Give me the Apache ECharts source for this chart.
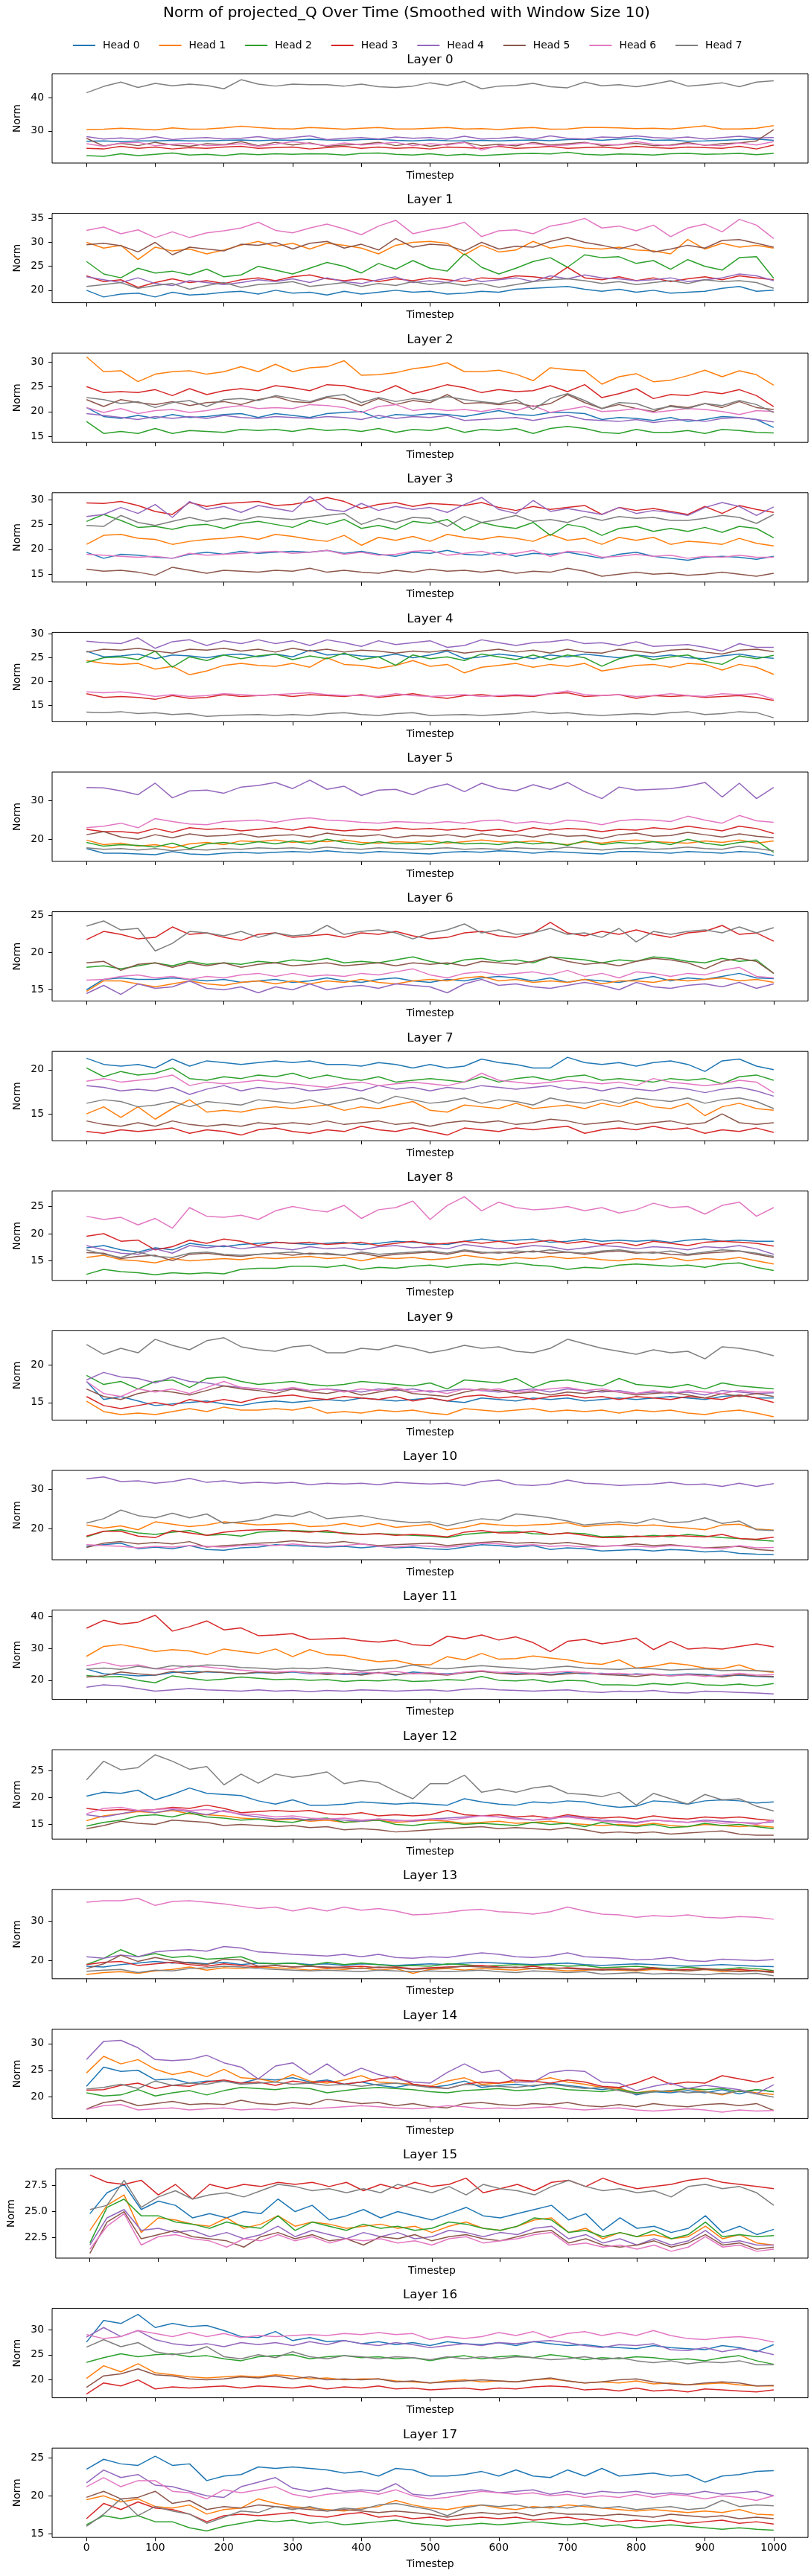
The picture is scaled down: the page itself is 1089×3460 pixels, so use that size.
<!DOCTYPE html>
<html>
<head>
<meta charset="utf-8">
<title>Norm of projected_Q Over Time</title>
<script src="https://cdn.jsdelivr.net/npm/echarts@6/dist/echarts.min.js"></script>
<style>
  html, body { margin: 0; padding: 0; background: #fff; }
  #chart { width: 1089px; height: 3460px; }
</style>
</head>
<body>
<div id="chart"></div>
<script>
// timesteps sampled every 25 steps
var timesteps = [0,25,50,75,100,125,150,175,200,225,250,275,300,325,350,375,400,425,450,475,500,525,550,575,600,625,650,675,700,725,750,775,800,825,850,875,900,925,950,975,1000];
var headNames = ['Head 0','Head 1','Head 2','Head 3','Head 4','Head 5','Head 6','Head 7'];
var headColors = ['#1f77b4','#ff7f0e','#2ca02c','#d62728','#9467bd','#8c564b','#e377c2','#7f7f7f'];
var xTicks = [0,100,200,300,400,500,600,700,800,900,1000];

// each layer: rows are Head 0 .. Head 7
var layer0 = [
  [26.9,27.0,26.8,27.0,27.0,27.2,27.0,27.0,27.2,27.3,27.1,27.3,27.2,27.5,27.3,27.2,27.4,27.5,27.2,27.0,27.3,27.1,27.0,27.2,27.0,27.2,27.3,27.1,27.4,27.5,27.2,27.6,27.8,27.2,27.3,26.9,27.0,27.2,27.4,27.6,27.2],
  [30.4,30.5,30.8,30.6,30.3,30.9,30.5,30.6,30.9,31.4,31.0,30.7,30.6,31.0,30.8,30.5,30.8,31.0,30.6,30.6,30.8,31.0,30.6,30.7,30.4,30.8,31.0,30.5,30.6,31.0,31.0,30.9,30.7,30.8,30.6,31.0,31.5,30.6,30.6,30.8,31.6],
  [22.6,22.4,23.2,22.6,23.0,23.4,22.8,23.0,22.6,23.2,22.9,23.2,23.0,23.2,23.1,22.8,23.3,23.4,23.0,22.8,23.2,22.7,23.0,22.6,22.9,23.2,23.3,23.1,23.6,23.0,22.8,23.1,23.0,22.8,23.2,23.3,23.0,23.1,23.3,22.9,23.3],
  [24.8,24.6,25.4,24.8,25.2,24.6,25.0,24.8,25.2,25.4,24.8,25.0,25.2,24.6,25.0,25.4,24.8,25.2,24.8,25.0,24.6,25.2,25.0,24.8,25.4,24.8,25.0,25.4,24.8,25.0,25.2,24.8,25.4,25.0,24.8,25.2,25.0,24.8,25.4,24.6,25.8],
  [28.3,27.6,27.9,27.5,28.3,27.4,27.8,28.0,27.6,27.8,28.3,27.6,28.0,28.5,27.4,27.8,28.0,27.6,28.2,27.8,28.0,27.5,28.4,27.6,27.8,28.2,27.6,28.5,27.8,27.6,28.2,28.0,28.5,28.0,27.8,28.2,27.6,28.0,28.4,27.9,28.0],
  [27.8,25.5,26.3,25.6,26.6,25.8,25.4,26.2,25.9,26.8,25.6,26.6,25.8,26.4,25.4,25.8,26.0,26.6,25.6,26.3,25.4,26.1,26.6,25.6,26.0,25.5,26.6,25.8,26.2,26.6,25.6,25.9,26.3,25.6,25.8,26.5,25.7,26.2,26.4,27.0,30.4],
  [26.2,25.4,26.4,26.6,25.6,26.0,26.3,25.6,25.8,26.2,25.4,26.0,26.8,26.2,25.6,26.4,25.8,26.2,26.6,25.6,26.2,25.8,26.6,24.3,25.6,26.0,26.2,25.6,25.8,26.4,26.0,25.8,26.8,26.0,25.6,26.2,25.8,25.6,26.4,25.8,26.8],
  [41.4,43.3,44.6,43.0,44.2,43.5,44.0,43.6,42.6,45.3,44.0,43.4,44.0,43.8,43.8,43.4,44.0,43.2,43.0,43.4,44.4,43.6,44.8,42.6,43.4,43.6,44.2,43.2,42.9,44.6,43.5,43.8,43.2,44.0,45.0,43.4,43.8,44.4,43.2,44.6,45.0]
];
var layer1 = [
  [20.0,18.6,19.2,19.4,18.6,19.6,19.0,19.2,19.6,19.8,19.2,20.0,19.4,19.6,19.0,19.8,19.2,19.6,20.0,19.6,19.8,19.2,19.4,19.8,19.6,20.2,20.4,20.6,20.8,20.2,19.8,20.2,19.6,20.0,19.4,19.6,19.8,20.4,20.8,19.8,20.0],
  [30.0,28.8,29.4,26.4,29.0,28.2,28.6,27.6,28.4,29.4,30.2,29.2,29.8,28.6,29.8,29.4,28.8,27.6,29.4,30.0,30.2,29.8,27.4,29.4,28.0,28.4,30.2,28.8,29.4,28.8,28.6,29.0,28.4,28.2,27.6,30.6,28.6,29.8,29.0,29.4,28.8],
  [26.0,23.4,22.6,24.6,23.6,24.0,23.2,24.4,22.8,23.2,25.0,24.2,23.4,24.6,25.8,25.0,23.6,25.6,24.4,26.2,24.6,24.0,27.6,24.8,23.4,24.6,26.0,26.8,24.8,27.4,26.8,27.0,25.6,26.2,24.4,26.4,25.0,24.2,26.8,27.0,22.5],
  [23.0,21.8,22.2,20.6,21.6,22.4,21.6,22.0,21.4,22.2,22.6,22.0,22.8,23.2,22.4,22.0,22.4,21.8,22.4,22.0,22.6,22.2,21.8,22.6,22.4,23.0,22.8,22.4,24.8,22.6,22.2,22.8,22.0,22.6,21.8,22.4,22.8,22.2,23.0,22.6,22.2],
  [22.8,22.2,21.6,22.6,21.4,21.0,22.0,21.6,21.2,21.6,22.2,21.8,22.4,21.6,22.6,21.8,21.4,22.2,22.8,21.6,22.0,21.6,22.6,21.8,22.2,22.6,21.8,23.0,22.4,23.2,22.6,22.4,22.0,22.2,22.6,21.8,22.2,22.6,23.4,23.0,22.0],
  [29.5,29.8,29.3,28.0,30.0,27.4,29.0,28.6,28.2,29.6,29.4,30.0,28.6,29.8,30.2,28.8,29.6,28.4,30.8,29.0,29.6,29.4,28.2,30.0,28.6,29.2,29.0,30.2,31.0,30.0,29.4,28.6,29.6,28.0,28.6,29.4,28.8,30.4,30.6,29.8,29.0],
  [32.5,33.2,31.8,32.6,31.0,32.2,31.0,32.0,32.4,33.0,34.2,32.5,32.0,33.0,33.8,32.8,31.6,33.4,34.6,31.8,32.6,33.2,34.2,31.2,32.4,32.6,31.8,33.4,34.0,35.0,33.0,33.4,32.4,33.6,31.2,33.0,33.8,32.2,34.8,33.6,30.8],
  [20.8,21.2,21.6,20.4,21.0,21.4,20.2,21.0,21.6,20.6,21.2,21.4,21.8,20.8,21.2,21.6,20.8,21.4,21.0,21.8,21.2,21.6,21.0,21.4,20.6,21.2,21.8,22.2,22.4,22.0,21.4,21.8,21.2,21.6,22.0,21.4,22.2,21.8,22.0,21.6,20.4]
];
var layer2 = [
  [20.8,19.0,18.6,19.2,18.6,19.4,18.8,19.0,19.4,19.6,18.8,19.6,19.2,18.8,19.6,19.8,20.0,18.6,19.4,19.2,19.6,19.4,19.0,19.6,20.2,19.4,19.2,19.8,19.8,19.6,18.4,18.8,18.6,18.2,18.8,18.0,18.4,19.0,18.8,18.4,16.8],
  [31.0,28.0,28.2,26.0,27.5,28.0,28.2,27.5,28.0,29.0,28.0,29.5,28.0,28.8,29.0,30.2,27.3,27.4,27.8,28.6,29.0,29.8,28.0,28.0,28.3,27.5,26.2,28.8,28.4,28.2,25.5,27.0,27.6,26.0,26.3,27.2,28.3,27.0,28.2,27.4,25.3],
  [18.0,15.6,16.0,15.6,16.6,15.6,16.2,16.0,15.8,16.4,16.2,16.4,16.0,16.6,16.2,16.4,16.0,16.6,15.8,16.4,16.2,16.8,15.8,16.4,16.2,16.6,15.6,16.6,17.0,16.6,15.8,15.6,16.4,15.8,15.8,16.2,15.6,16.4,16.2,15.8,15.7],
  [25.0,23.8,24.0,23.8,24.4,23.2,24.6,23.4,24.2,24.6,24.2,25.2,24.8,24.2,25.4,25.2,24.4,23.8,25.2,23.6,24.4,25.4,24.8,23.8,24.4,24.0,24.2,25.2,24.0,25.4,22.8,23.6,24.6,22.6,23.4,23.2,24.0,23.6,24.4,23.2,21.0],
  [19.6,19.2,18.8,18.4,19.0,18.6,19.0,18.6,19.2,18.8,18.6,19.0,18.8,18.6,19.0,18.8,18.4,19.2,18.6,19.0,18.8,19.2,18.2,18.4,18.6,18.8,18.2,18.8,19.2,18.4,18.2,18.0,18.4,17.8,18.2,18.4,18.0,18.6,18.8,18.4,17.9],
  [22.4,21.0,22.4,21.8,21.4,22.0,21.2,21.8,22.0,21.4,22.4,23.0,22.0,21.8,22.8,22.4,21.2,22.6,21.4,22.2,21.8,23.4,21.6,21.8,21.4,21.8,21.0,21.6,23.4,21.8,20.6,21.4,20.6,20.0,21.2,20.8,21.6,20.8,22.0,20.8,20.4],
  [20.8,19.8,20.6,19.6,20.2,20.4,19.8,20.2,20.8,21.2,20.6,20.8,20.6,21.4,21.2,20.8,19.8,21.0,21.4,20.2,20.6,20.2,20.4,20.0,20.6,20.2,21.2,19.8,20.4,21.0,20.0,20.2,20.6,19.8,20.2,20.6,20.4,20.0,19.4,20.2,20.0],
  [22.8,22.4,21.6,22.0,20.8,21.8,22.2,21.0,22.4,22.6,22.2,23.2,22.6,22.0,23.0,23.4,21.8,22.8,22.0,22.6,22.2,23.0,22.4,22.0,21.6,22.4,20.4,22.6,23.6,22.2,20.6,21.8,21.6,20.4,21.0,20.6,21.6,21.2,22.2,21.4,19.8]
];
var layer3 = [
  [19.4,18.2,19.0,18.8,18.4,18.2,19.0,19.4,19.0,19.6,19.2,19.4,19.6,19.4,19.8,19.2,19.6,19.0,18.6,19.4,19.2,19.8,19.0,18.8,19.4,18.6,19.2,19.0,19.4,18.8,18.2,19.0,19.4,18.6,18.2,17.8,18.4,18.6,18.4,18.0,18.6],
  [21.0,22.8,23.0,22.2,22.0,21.0,21.6,22.0,22.2,22.6,22.0,23.0,22.6,22.0,21.6,22.8,20.8,22.4,21.8,22.6,21.6,23.0,22.4,22.0,22.6,22.2,21.6,23.0,21.8,22.2,21.0,22.4,21.8,22.4,21.0,21.6,21.4,21.0,22.2,21.2,20.7],
  [25.6,27.0,25.8,24.4,24.6,24.0,24.8,25.0,24.2,25.2,25.6,25.0,24.4,25.8,25.0,26.0,24.2,24.8,24.0,25.6,25.2,26.0,23.8,25.4,24.6,24.2,25.4,22.8,25.0,24.4,22.8,24.2,24.6,23.6,24.2,23.6,24.4,23.4,24.6,24.2,22.3],
  [29.3,29.2,29.6,28.8,27.6,27.0,29.4,28.6,29.2,29.4,29.6,28.8,29.0,29.6,30.4,29.6,28.2,29.0,29.4,28.6,29.2,29.0,28.8,29.4,28.4,27.8,28.6,28.0,28.4,28.8,27.0,28.4,27.8,28.2,27.6,27.0,28.6,27.2,28.8,28.0,27.4],
  [26.6,27.0,28.4,27.2,29.0,26.4,29.6,28.0,28.6,27.4,28.8,28.2,27.6,30.6,28.0,27.6,29.2,27.8,28.6,28.0,28.4,27.4,29.0,30.4,28.0,27.2,29.8,27.6,28.2,27.6,27.0,28.4,27.2,27.8,27.4,26.8,28.4,29.4,28.6,26.8,28.5],
  [16.0,15.6,15.8,15.4,14.8,16.4,15.8,15.2,15.8,15.6,15.4,15.8,15.6,16.2,15.4,15.8,15.4,15.2,15.8,15.4,16.0,15.6,15.8,15.4,15.8,15.2,15.6,15.4,16.2,15.6,14.6,15.0,15.4,15.0,15.2,14.8,15.0,15.4,15.0,14.6,15.2],
  [19.0,18.8,18.6,18.4,18.6,18.2,19.2,18.8,19.0,19.2,19.4,19.6,19.2,19.4,19.8,19.0,19.4,18.8,19.0,19.6,19.8,18.8,19.2,19.6,18.8,19.2,19.8,18.6,19.6,19.4,18.4,18.6,19.0,18.6,18.8,18.2,18.6,18.4,18.8,18.4,18.4],
  [24.8,24.6,26.8,25.4,24.8,25.6,26.4,25.6,26.2,25.8,26.6,26.2,26.0,26.4,26.8,27.2,25.0,26.2,25.4,26.4,26.2,24.6,26.6,25.4,26.0,26.8,25.6,26.0,25.4,26.6,25.8,26.6,26.2,26.4,25.8,25.8,26.2,26.8,26.4,25.2,27.0]
];
var layer4 = [
  [26.4,25.2,25.4,25.8,24.8,25.6,25.4,25.0,25.6,25.8,25.2,25.8,25.2,26.6,25.6,25.8,25.4,25.2,25.8,25.0,25.6,26.4,24.8,25.2,25.8,25.4,24.8,25.6,25.2,25.8,25.4,25.0,25.6,25.2,25.6,25.0,24.8,25.4,25.8,25.2,24.9],
  [24.4,23.8,23.6,23.8,22.6,23.2,21.4,22.2,23.4,23.8,23.4,23.2,23.8,23.0,25.0,23.6,23.4,22.8,23.4,24.4,23.2,23.6,21.8,23.0,23.4,23.8,23.0,23.6,23.2,23.8,22.2,22.8,23.4,23.6,23.0,23.8,23.6,22.4,23.6,23.0,21.5],
  [24.0,25.0,25.2,24.6,26.4,23.0,25.2,24.4,25.6,24.8,25.4,25.8,24.6,25.4,24.8,26.0,24.6,25.2,23.4,25.6,24.8,25.2,24.4,25.8,25.2,24.6,25.6,24.6,25.6,25.0,23.2,24.8,25.6,24.6,25.2,25.6,24.2,23.6,25.4,24.8,25.5],
  [17.4,16.6,16.8,16.6,16.2,17.0,16.4,16.6,17.2,16.8,17.0,17.2,16.8,17.2,17.0,16.8,17.2,16.6,17.0,17.4,16.8,16.4,17.0,17.2,16.8,17.0,16.8,17.4,17.6,16.8,17.0,17.2,16.4,17.0,16.8,17.0,16.6,16.8,17.0,16.6,16.0],
  [28.5,28.2,28.0,29.2,27.0,28.4,28.8,27.6,28.6,28.0,28.8,28.0,28.6,27.6,28.8,28.2,27.4,28.6,27.8,28.2,28.6,27.2,27.6,28.8,28.2,27.6,28.2,28.4,28.8,28.0,28.2,27.6,28.4,27.4,27.6,27.8,27.2,26.4,28.0,27.2,27.2],
  [26.2,26.8,26.6,27.0,26.4,26.0,26.8,26.6,27.0,26.4,26.8,26.2,27.0,26.4,26.8,26.2,26.6,26.4,26.0,26.4,26.2,26.6,26.0,26.4,26.8,26.2,26.6,26.0,26.8,26.2,26.0,26.8,26.4,26.0,26.6,26.8,26.2,25.8,26.6,26.8,26.3],
  [17.8,17.6,17.8,17.4,16.8,17.2,16.8,17.0,17.4,17.2,17.0,17.2,17.4,17.6,17.2,17.0,17.0,16.8,17.4,17.0,16.8,17.0,17.2,16.8,17.0,17.2,17.0,17.4,18.0,17.2,17.0,17.2,16.8,17.0,17.4,17.0,16.8,17.4,17.2,17.4,16.2],
  [13.5,13.4,13.6,13.2,13.4,13.0,13.2,12.6,12.8,12.9,13.0,12.8,13.0,12.8,13.2,13.4,13.0,12.8,13.2,13.4,12.8,12.9,13.0,12.8,13.0,13.2,13.6,13.2,13.4,13.0,12.8,13.0,13.2,13.0,13.4,13.6,13.0,13.2,13.6,13.4,12.3]
];
var layer5 = [
  [17.6,16.4,16.4,16.2,16.0,16.8,16.2,16.0,16.4,16.6,16.4,16.6,16.8,16.6,17.0,16.6,16.4,16.8,16.6,16.4,16.2,16.6,16.8,16.6,17.0,16.8,16.4,16.8,16.6,16.4,16.2,16.8,16.8,16.6,16.4,16.8,16.6,16.4,16.8,16.6,15.8],
  [19.8,18.6,19.0,18.2,18.6,17.8,18.8,19.2,18.6,19.6,19.4,19.8,19.2,19.6,19.4,19.8,19.2,19.0,19.4,19.2,19.6,19.0,19.4,19.8,19.4,19.2,19.6,19.0,18.6,19.4,19.0,19.6,19.8,19.4,19.2,19.0,19.6,19.2,19.8,19.0,19.6],
  [19.2,18.2,18.6,18.4,18.0,19.0,17.6,18.8,19.2,18.6,19.4,18.8,19.6,18.8,20.0,19.2,18.6,19.4,18.8,19.0,18.6,19.4,18.8,19.0,18.6,19.4,18.8,19.2,18.4,19.6,18.6,19.2,18.8,19.4,18.6,20.0,19.0,18.4,19.2,19.6,16.6],
  [22.6,22.0,22.0,21.6,22.8,21.8,23.0,22.6,22.8,22.2,22.6,23.0,22.4,23.2,22.6,22.2,22.6,22.4,23.0,22.6,22.8,22.4,22.8,22.2,22.6,22.0,23.0,22.4,22.8,22.6,22.0,22.6,22.4,23.0,22.6,23.4,22.8,22.2,23.4,22.8,21.5],
  [33.5,33.4,32.6,31.6,34.6,30.8,32.6,32.8,32.0,33.6,34.0,34.8,33.2,35.4,33.0,33.8,31.4,32.8,33.0,31.6,33.4,34.4,32.4,34.6,33.2,32.6,34.2,33.0,34.8,32.4,30.6,33.6,32.8,33.0,33.2,33.8,34.8,31.0,34.6,30.6,33.5],
  [21.2,22.0,20.6,20.0,21.2,20.4,21.4,20.8,21.0,21.4,20.6,21.0,21.2,20.6,21.6,21.0,20.8,21.2,20.4,21.0,20.8,21.2,20.6,21.4,20.8,21.2,20.6,21.4,20.8,21.0,20.2,21.2,21.6,20.8,21.0,21.8,21.2,20.6,21.4,20.8,20.4],
  [23.0,23.4,24.2,23.0,25.4,24.6,24.0,23.8,24.6,24.8,25.0,24.4,25.2,25.6,25.0,24.8,24.4,24.2,24.6,24.4,24.2,24.6,24.2,24.8,25.0,24.2,24.6,24.0,25.0,24.6,23.8,24.8,25.2,25.0,24.6,26.0,25.0,24.2,26.2,24.8,24.4],
  [17.8,17.4,17.6,17.2,17.6,17.0,17.4,17.2,17.6,17.4,17.8,17.6,17.8,17.4,18.0,17.6,17.4,17.8,17.6,17.4,17.6,17.8,17.4,17.6,17.4,17.8,17.6,17.4,18.0,17.6,17.2,17.6,17.8,17.4,17.6,18.0,17.6,17.4,18.2,17.6,17.0]
];
var layer6 = [
  [15.0,16.4,16.6,16.4,16.4,16.6,16.4,16.2,16.4,16.0,16.2,16.4,16.0,16.2,16.6,16.2,16.0,16.4,16.6,16.2,16.0,16.4,16.2,16.6,16.8,16.6,16.2,16.6,16.0,16.4,16.2,16.0,16.4,16.8,16.2,16.6,16.4,16.8,17.2,16.6,16.5],
  [14.8,16.2,16.2,15.8,15.4,15.8,16.2,15.8,15.6,16.0,16.2,15.8,16.2,15.8,16.2,16.0,16.4,16.0,15.8,16.2,16.4,16.2,16.6,16.8,16.2,16.4,16.0,16.2,16.0,16.4,15.8,16.2,16.2,16.0,16.4,16.2,16.4,16.6,16.2,16.4,16.0],
  [18.0,18.2,17.8,18.2,18.6,18.2,18.8,18.4,18.6,18.4,18.8,18.6,19.0,18.8,19.2,18.6,18.8,18.6,19.0,19.4,18.8,18.4,19.0,19.2,18.8,19.0,18.6,19.4,19.2,19.0,18.6,19.0,18.8,19.4,19.2,18.8,18.6,19.2,18.8,19.0,17.2],
  [21.7,22.8,22.4,21.8,22.0,23.4,22.4,22.6,22.0,21.6,22.4,22.6,22.0,22.2,22.4,22.0,22.6,22.4,22.8,22.2,21.8,22.0,22.6,22.8,22.2,22.0,22.6,24.0,22.6,22.2,22.8,22.4,23.0,22.4,22.0,22.6,22.8,23.6,22.4,22.6,21.5],
  [14.5,15.6,14.4,15.8,15.2,15.4,16.2,15.2,15.0,15.4,14.6,15.4,15.0,15.8,15.0,15.4,15.6,15.2,15.8,15.6,15.4,14.6,15.8,16.4,15.6,15.8,15.4,15.2,15.6,16.0,15.6,15.0,16.0,15.4,15.2,15.6,15.8,15.4,16.0,15.2,15.8],
  [18.6,18.8,17.6,18.4,18.6,18.0,18.6,18.2,18.6,18.0,18.4,18.6,18.2,18.4,18.6,18.2,18.4,18.6,18.2,18.6,18.4,18.6,18.2,18.8,18.6,18.4,18.8,19.4,18.8,18.4,18.6,18.2,18.8,19.2,19.0,18.6,17.8,18.8,19.2,18.8,17.2],
  [16.3,16.4,16.8,17.0,16.6,16.8,16.4,16.8,16.6,17.0,17.2,16.8,17.2,16.8,17.0,16.8,17.2,17.0,17.4,17.8,17.0,16.6,17.2,17.4,17.0,17.2,17.4,17.0,17.6,16.8,17.2,16.6,17.4,17.2,16.8,17.2,17.0,17.6,18.0,16.8,16.6],
  [23.5,24.2,23.0,23.2,20.2,21.2,22.8,22.6,22.2,22.8,22.0,22.6,22.2,22.4,23.6,22.4,22.8,23.0,22.6,21.8,22.6,23.0,23.8,22.6,23.0,22.4,22.6,23.2,22.4,22.6,22.0,23.2,21.4,22.8,22.4,22.8,23.0,22.6,23.4,22.6,23.3]
];
var layer7 = [
  [21.3,20.6,20.4,20.6,20.2,21.2,20.4,21.0,20.8,20.6,20.8,21.0,20.8,21.0,20.6,20.6,20.4,20.8,20.6,20.2,20.6,20.2,20.4,21.2,20.8,20.6,20.2,20.2,21.4,20.8,20.6,20.8,20.4,20.8,21.0,20.6,19.8,21.0,21.2,20.4,20.0],
  [15.0,15.8,14.6,15.8,14.4,15.6,16.6,15.2,15.4,15.2,15.6,15.8,15.6,15.8,16.0,15.4,15.8,15.6,16.0,16.4,15.4,15.2,16.0,15.8,15.6,16.2,15.6,15.8,16.0,15.6,16.2,15.8,16.4,15.8,15.6,16.2,14.8,15.8,16.2,15.6,15.4],
  [20.2,19.2,19.8,19.4,19.6,20.2,19.0,18.8,19.2,19.0,19.4,19.2,19.6,19.0,19.4,19.0,18.8,19.2,18.6,18.8,19.0,18.8,18.6,19.2,18.6,19.0,19.2,18.8,19.2,19.4,18.8,19.0,18.8,18.6,19.0,18.8,19.0,18.4,19.2,19.4,18.8],
  [13.0,12.8,13.2,13.0,13.2,13.4,12.8,13.2,13.0,12.6,13.2,13.4,13.0,12.8,13.2,13.0,13.6,13.2,13.0,13.4,13.0,12.6,13.4,13.2,13.0,13.4,13.2,13.4,13.6,12.8,13.2,13.4,13.2,13.6,13.2,13.4,12.8,13.2,13.0,13.4,12.9],
  [18.2,18.0,17.6,17.8,17.6,18.0,17.2,17.8,18.2,17.6,18.0,17.8,18.0,17.6,17.8,18.0,17.6,18.2,17.8,18.0,17.6,18.0,17.8,18.2,18.0,17.8,18.0,18.2,17.8,18.0,17.6,18.0,17.8,17.6,18.0,17.8,17.4,17.8,18.0,17.6,17.0],
  [14.2,13.8,13.6,14.0,13.6,14.2,13.8,13.6,13.8,13.6,14.0,13.8,14.0,13.8,14.2,13.8,14.0,14.2,13.8,14.0,13.6,14.0,14.2,14.0,14.2,13.8,14.0,14.4,14.2,13.8,14.0,14.2,13.8,14.0,14.2,13.8,14.0,15.0,14.0,13.8,14.0],
  [18.7,19.0,18.6,18.8,19.0,19.4,18.2,18.6,18.4,18.6,18.8,18.6,18.4,18.2,18.0,18.4,18.6,18.2,18.4,18.6,18.4,18.2,18.6,19.6,18.8,18.6,18.4,18.6,18.8,18.6,18.4,18.6,18.2,19.0,18.6,18.4,18.2,18.4,18.8,18.6,17.4],
  [16.2,16.6,16.4,15.8,16.0,16.4,15.8,16.4,16.2,16.0,16.6,16.4,16.2,16.6,16.0,16.4,16.8,16.2,17.0,16.6,16.2,16.4,16.8,16.2,16.6,16.4,16.0,16.8,16.4,16.2,16.6,16.2,16.8,16.6,16.4,16.8,16.2,16.6,16.8,16.4,15.6]
];
var layer8 = [
  [17.4,17.8,17.0,16.6,17.4,17.0,18.2,17.8,17.6,18.0,18.2,18.4,18.2,18.0,18.2,18.4,18.0,18.2,18.6,18.4,18.2,18.0,18.6,19.0,18.6,18.8,19.0,18.4,18.6,19.0,18.6,18.8,18.6,18.8,18.4,18.8,19.0,18.6,18.8,18.6,18.6],
  [15.6,16.0,15.2,15.0,14.6,15.4,15.0,15.2,15.4,15.2,15.6,15.4,15.6,15.8,15.4,15.6,15.0,15.6,15.4,15.6,15.2,15.4,16.0,15.6,15.2,15.6,15.4,15.8,15.4,15.6,15.2,15.0,15.4,15.2,15.6,15.0,15.4,15.2,15.6,15.0,14.4],
  [12.5,13.4,13.0,12.8,12.4,12.8,12.6,12.8,12.6,13.4,13.6,13.6,14.0,14.0,13.8,14.2,13.4,13.8,13.6,14.0,14.2,13.8,14.2,14.4,14.2,14.6,14.2,14.0,13.4,13.8,13.6,14.2,14.4,14.2,14.0,14.2,13.8,14.4,14.6,13.8,13.2],
  [19.5,20.0,18.6,18.8,17.0,17.6,18.8,18.2,19.0,18.6,17.8,18.4,18.2,18.4,18.0,18.2,18.4,17.8,18.2,18.6,18.0,18.2,18.6,18.2,18.6,18.0,18.4,18.8,18.2,18.6,18.0,18.4,17.8,18.6,18.2,17.8,18.4,18.6,18.4,18.2,17.7],
  [17.8,17.0,16.4,16.2,17.2,16.4,17.8,17.4,17.8,17.2,17.6,17.4,17.0,17.6,17.2,17.4,17.0,17.6,17.8,17.4,17.6,17.2,18.0,17.6,17.2,17.4,17.8,17.6,17.0,17.4,17.8,17.6,17.2,17.6,17.4,17.0,17.6,17.4,17.8,17.2,16.2],
  [16.5,16.4,15.4,15.8,16.0,15.0,16.2,16.4,16.0,15.8,16.2,16.4,16.0,16.4,16.2,16.0,16.4,15.8,16.2,16.4,16.6,16.2,16.8,16.4,16.6,16.4,16.8,16.4,16.6,16.2,16.6,16.8,16.4,16.6,16.2,16.0,16.4,16.6,16.8,16.2,15.6],
  [23.2,22.6,23.0,21.6,22.8,21.0,24.8,23.2,23.0,23.4,22.6,24.2,25.0,24.4,24.0,25.2,22.8,24.4,24.8,26.0,22.6,25.2,26.8,24.2,25.8,24.8,24.4,24.6,25.0,24.2,24.8,23.8,24.4,25.6,24.8,25.0,23.6,25.2,25.8,23.2,24.8],
  [17.0,16.2,15.6,16.6,15.8,15.6,16.4,16.6,16.2,16.0,16.2,16.4,16.6,16.2,16.4,16.0,16.6,16.2,16.4,16.6,16.8,16.4,17.0,16.6,16.4,16.8,16.6,17.0,16.6,16.4,16.8,17.0,16.6,16.4,16.8,16.2,16.6,17.0,16.8,16.4,15.8]
];
var layer9 = [
  [17.8,15.4,15.8,15.2,14.6,14.8,15.0,15.2,14.8,14.6,15.0,15.2,15.0,15.2,15.4,15.2,15.6,15.4,15.2,15.4,15.6,15.2,15.0,15.6,15.4,15.2,15.6,15.4,15.6,15.2,15.4,15.6,15.4,15.6,15.8,15.6,15.4,15.8,16.0,15.6,15.6],
  [15.2,13.8,13.4,13.6,13.4,13.8,14.2,13.8,14.4,14.0,14.0,14.2,14.0,14.4,13.6,13.8,13.6,14.0,13.8,14.0,13.6,13.4,14.2,14.0,13.8,14.0,14.2,13.8,14.0,13.8,14.0,13.6,14.0,13.8,14.0,13.6,13.4,13.8,14.0,13.6,13.1],
  [18.6,17.4,17.8,16.8,17.8,18.0,17.0,18.2,18.4,17.8,17.4,17.6,17.8,17.4,17.2,17.4,17.8,17.6,17.4,17.2,17.6,16.8,18.0,17.8,17.6,18.2,17.0,17.8,18.0,17.6,17.2,18.2,17.4,17.2,17.0,17.4,16.8,17.6,17.2,17.0,16.8],
  [15.8,14.6,14.2,14.6,15.0,14.6,15.4,15.0,15.4,15.0,15.6,15.8,16.0,15.6,15.4,15.8,15.6,15.4,15.8,15.2,15.6,15.2,15.8,16.0,15.6,15.8,15.4,15.8,16.0,15.6,15.8,15.4,15.8,15.6,15.4,15.8,15.6,15.4,16.0,15.6,15.0],
  [18.0,19.0,18.4,18.2,17.6,18.4,17.8,17.6,17.2,17.0,16.8,16.6,16.8,16.6,16.8,16.6,16.4,16.8,16.6,16.8,16.4,16.6,16.8,16.6,16.4,16.6,16.8,16.4,16.8,16.6,16.4,16.6,16.2,16.4,16.2,16.4,16.0,16.6,16.4,16.2,16.3],
  [16.8,15.8,15.4,16.2,16.6,16.4,16.0,16.6,17.2,16.8,16.6,16.2,16.8,16.4,16.2,16.6,16.0,16.4,16.8,16.2,16.0,15.8,16.4,16.8,16.6,16.2,16.4,16.0,16.4,16.2,16.6,16.4,16.0,16.2,16.4,16.0,15.6,16.2,15.8,16.2,15.8],
  [17.8,16.2,15.8,16.8,16.4,16.8,16.2,17.0,17.8,17.0,16.8,16.6,17.0,16.6,16.8,16.4,16.8,16.6,17.0,16.4,16.6,16.2,16.8,16.6,16.8,16.4,16.6,16.8,17.0,16.6,16.8,16.4,16.2,16.6,16.2,16.6,16.4,16.2,16.6,16.4,16.4],
  [22.7,21.4,22.2,21.6,23.4,22.6,22.0,23.2,23.6,22.4,22.0,21.8,22.4,22.6,21.6,21.6,22.2,22.0,22.6,22.2,21.6,22.0,22.6,22.2,22.4,21.8,21.6,22.2,23.4,22.8,22.2,21.8,21.4,22.0,21.6,21.8,20.8,22.4,22.2,21.8,21.2]
];
var layer10 = [
  [15.6,16.0,16.4,15.0,15.4,15.0,15.8,14.8,14.6,15.2,15.4,16.0,15.8,15.6,15.4,15.6,15.2,15.6,15.2,15.4,15.0,14.8,15.4,16.0,15.8,15.4,15.8,14.8,15.2,15.0,14.4,14.6,14.8,14.4,14.8,14.6,14.2,14.4,13.8,13.6,13.5],
  [21.0,20.2,20.8,19.8,21.8,21.2,20.6,21.0,21.8,21.4,21.0,21.2,21.4,20.6,20.8,21.4,20.6,21.4,20.4,20.8,21.2,19.8,20.4,21.4,21.0,20.8,21.0,21.2,21.6,20.6,21.0,21.2,20.8,21.0,20.6,20.2,19.8,21.0,21.2,20.0,19.7],
  [18.0,19.4,19.8,19.0,18.6,19.2,19.6,18.4,18.6,18.2,19.2,19.4,19.6,19.4,19.2,19.0,18.6,18.8,18.6,18.4,18.2,17.8,18.6,19.0,19.2,19.4,18.8,18.6,19.0,18.8,18.0,18.2,18.0,18.4,18.0,18.6,18.2,17.8,17.6,17.2,16.9],
  [18.2,19.4,19.4,18.2,17.8,19.6,19.0,18.4,19.2,19.6,19.8,19.8,19.4,19.2,19.6,18.8,18.6,18.8,18.4,18.6,18.4,18.0,19.2,19.6,19.0,19.0,19.4,18.6,19.0,18.4,17.8,17.8,18.2,18.0,18.4,18.2,18.0,18.6,17.6,17.4,17.9],
  [32.7,33.2,32.0,32.2,31.6,32.0,32.8,31.8,32.2,31.6,31.8,31.6,31.8,31.2,31.6,31.4,31.6,31.2,31.8,31.6,31.4,31.6,31.0,32.0,32.4,31.2,31.0,31.4,32.4,31.6,31.4,31.0,31.2,31.4,31.8,31.2,31.4,30.8,31.6,30.8,31.5],
  [15.3,16.4,16.8,16.2,16.6,16.2,16.8,15.4,15.8,16.0,16.4,16.6,17.0,16.6,16.4,16.8,16.2,15.8,16.0,16.2,16.4,15.8,16.2,16.6,16.8,16.4,16.6,16.2,16.6,16.0,15.6,15.8,16.2,15.8,16.0,15.6,15.2,15.4,15.6,14.8,14.5],
  [16.0,15.8,15.6,15.2,15.6,15.4,15.8,15.6,15.4,15.8,16.0,15.8,16.2,15.8,15.6,15.8,16.2,15.6,15.4,15.8,15.6,15.4,15.8,16.4,16.2,15.8,16.0,15.6,15.8,15.4,15.6,15.8,15.6,15.4,15.8,15.6,15.2,15.0,15.8,15.2,15.3],
  [21.5,22.6,24.8,23.4,22.8,24.0,22.8,23.8,21.4,21.8,22.4,23.6,23.2,24.4,22.6,23.0,23.4,22.6,22.0,21.6,21.8,20.8,21.8,22.6,22.2,23.8,23.4,22.8,22.0,21.0,21.4,21.8,21.4,22.6,21.6,21.8,22.8,21.4,22.0,19.8,19.6]
];
var layer11 = [
  [23.5,22.0,21.8,21.4,21.6,22.4,22.8,22.6,22.4,22.0,22.4,22.2,22.6,22.0,22.2,21.8,22.0,22.4,21.6,22.6,22.2,22.0,22.4,22.8,22.4,22.0,22.2,21.8,22.4,22.0,22.2,21.6,22.0,21.8,21.6,22.0,21.8,21.4,21.6,21.2,21.0],
  [27.5,30.6,31.2,30.2,29.0,29.6,29.2,28.0,29.8,29.0,28.4,29.8,27.4,29.6,28.0,27.8,26.6,25.8,26.2,25.0,24.8,27.4,26.4,28.4,26.6,26.8,27.6,27.0,26.4,25.4,25.0,26.4,23.8,24.4,25.4,24.8,23.8,23.6,24.8,23.0,22.5],
  [21.5,21.0,21.2,20.0,19.2,21.4,20.6,20.0,20.4,21.0,20.6,20.2,20.4,20.0,20.2,19.6,20.0,19.8,20.2,19.6,19.8,20.2,20.0,21.2,20.0,19.8,20.2,19.4,20.0,19.8,18.6,18.6,18.4,19.0,18.6,19.2,18.6,18.4,18.8,18.2,19.0],
  [36.3,38.8,37.6,38.2,40.4,35.4,36.8,38.6,35.8,36.4,34.0,34.2,34.6,32.8,33.0,33.2,32.4,32.0,32.6,31.2,30.8,33.8,33.0,34.2,32.6,33.6,31.8,29.0,32.2,32.8,31.4,32.2,33.2,29.6,32.2,29.8,30.2,29.8,30.6,31.4,30.5],
  [17.8,18.6,18.2,17.4,16.6,17.0,17.4,17.0,16.8,16.6,17.0,16.6,16.8,16.4,16.8,16.6,17.0,16.8,16.6,16.8,17.0,16.6,17.2,17.4,17.0,16.8,16.6,16.8,17.0,16.4,16.2,16.6,16.4,16.8,16.2,16.0,16.6,16.4,16.2,16.0,15.7],
  [21.0,21.4,22.6,22.0,21.6,22.8,22.0,22.8,22.4,22.0,22.6,22.2,22.8,22.4,21.8,22.2,21.6,22.4,21.8,22.2,22.0,21.6,22.4,22.8,22.2,21.8,22.0,21.6,22.0,22.4,21.8,21.6,21.2,21.8,21.4,21.8,21.6,21.0,21.8,21.4,21.2],
  [24.5,25.6,24.4,24.8,23.6,23.4,24.6,24.2,23.6,23.2,22.8,22.6,22.8,22.2,22.4,22.0,22.6,22.2,22.8,22.0,22.4,21.8,22.6,23.0,22.4,22.6,22.2,22.4,22.8,22.4,22.0,22.2,21.8,22.0,21.4,21.8,21.2,21.6,22.2,21.6,21.8],
  [23.5,23.8,23.4,24.4,23.6,24.6,24.2,24.8,24.6,24.0,23.8,23.4,23.8,23.6,24.0,23.4,23.0,23.4,23.8,24.8,23.8,23.6,24.2,24.6,24.2,23.8,23.4,24.0,24.4,23.8,23.6,23.4,23.8,23.6,23.2,23.4,23.6,23.0,23.2,23.0,22.8]
];
var layer12 = [
  [20.3,21.0,20.8,21.4,19.6,20.6,21.8,20.8,20.6,20.4,19.4,18.8,19.6,18.6,18.6,18.8,19.2,19.0,18.8,19.0,18.8,18.6,19.8,19.2,18.8,18.6,19.2,19.0,19.4,19.2,18.6,18.2,18.4,19.4,19.2,18.8,19.4,19.6,19.4,19.0,19.2],
  [15.7,16.6,17.0,17.4,17.2,17.6,17.0,16.8,16.6,16.2,16.0,15.8,16.0,15.6,15.8,15.4,15.6,15.8,15.4,15.6,15.8,15.6,15.2,15.4,15.6,15.2,15.4,15.6,15.2,15.0,14.8,15.0,14.8,15.2,14.8,14.6,15.0,14.8,14.6,14.8,14.5],
  [14.7,15.4,15.8,16.6,16.8,16.4,17.2,16.4,16.2,15.8,16.0,15.6,15.4,16.0,16.2,15.4,15.6,15.8,15.0,14.8,15.2,15.4,15.0,15.2,15.0,14.8,15.4,15.0,15.2,14.6,15.4,14.8,14.6,15.0,14.4,14.6,15.2,14.8,15.0,14.6,14.2],
  [18.0,17.6,17.8,17.6,17.8,18.2,18.0,18.6,18.0,17.2,17.4,17.6,17.4,17.6,17.0,16.8,17.2,16.6,16.8,16.6,16.8,17.6,16.8,16.6,16.8,16.4,16.6,16.2,16.8,16.4,16.2,16.4,16.0,16.6,16.2,16.0,16.4,16.2,16.4,16.0,15.7],
  [16.8,16.4,17.0,17.6,17.2,17.8,17.4,16.8,17.6,16.8,16.4,16.0,16.2,15.8,16.0,15.8,15.6,16.0,15.8,15.6,16.0,16.2,16.4,16.6,16.4,16.2,15.8,16.0,16.6,16.2,15.8,15.6,15.4,15.8,15.6,15.4,15.8,15.6,15.4,15.2,15.5],
  [14.2,14.8,15.6,15.2,15.0,15.8,15.6,15.4,14.8,15.0,14.8,14.6,14.8,14.4,14.6,14.0,14.2,14.0,13.6,13.8,14.0,14.2,14.4,14.6,14.2,14.4,14.2,14.0,14.4,14.0,13.4,13.6,13.4,13.6,13.2,13.4,13.6,13.8,13.2,13.0,13.0],
  [17.0,18.0,18.2,17.6,17.8,18.0,17.6,17.8,17.4,17.0,16.8,16.4,16.6,16.2,16.0,16.2,15.8,16.0,15.6,15.8,16.0,15.8,16.2,16.6,16.4,16.0,15.8,16.2,16.4,16.0,15.6,15.4,15.2,15.8,15.6,15.4,15.6,15.2,15.4,15.0,15.8],
  [23.3,26.8,25.2,25.6,28.0,26.8,25.3,25.8,22.4,24.4,22.7,24.4,23.8,24.2,24.8,22.6,23.2,22.8,21.2,19.8,22.6,22.6,24.2,21.0,21.6,21.0,21.8,22.2,20.8,20.6,20.2,21.0,18.6,20.8,19.8,18.8,20.6,19.6,19.8,18.4,17.5]
];
var layer13 = [
  [18.6,18.4,19.0,19.4,19.8,19.4,19.6,19.2,19.6,19.0,19.4,19.2,19.4,19.0,19.2,18.8,19.2,19.0,18.8,19.0,19.2,19.0,19.4,19.6,19.4,19.2,19.0,19.2,19.4,19.0,18.8,19.0,19.2,19.0,18.8,18.6,18.8,19.0,18.8,18.6,18.5],
  [16.5,17.0,17.2,16.8,17.4,17.8,18.4,17.6,18.2,18.0,18.4,18.2,18.0,17.6,18.0,17.8,18.2,17.6,18.0,16.8,17.8,18.0,17.6,18.0,17.8,17.6,18.0,17.8,17.4,17.6,17.8,17.6,17.4,17.8,17.6,17.4,17.8,17.2,17.4,17.6,17.0],
  [19.0,20.6,22.8,21.0,21.8,20.8,21.2,20.4,20.6,21.0,19.4,19.2,19.4,18.8,19.6,19.0,19.4,19.0,18.6,18.8,18.6,19.2,19.0,18.6,18.8,19.0,18.8,19.0,18.6,18.8,18.2,18.4,18.6,18.2,18.0,18.4,18.0,17.8,18.2,18.0,17.5],
  [19.0,19.6,19.8,18.8,19.2,19.6,19.0,18.6,19.2,18.8,18.4,18.8,18.4,18.6,18.2,18.4,18.6,18.2,18.4,18.0,18.2,18.4,18.6,18.8,18.4,18.2,18.6,18.0,18.2,18.0,17.8,18.0,17.8,18.2,17.6,17.8,18.0,17.6,17.8,17.4,17.3],
  [21.0,20.6,21.4,21.0,22.2,22.6,22.8,22.4,23.6,23.2,22.2,22.0,21.6,21.4,21.2,21.6,21.0,21.6,20.8,20.6,21.0,20.8,21.4,22.0,21.6,21.0,20.8,21.2,22.0,21.0,20.8,20.6,20.2,20.4,20.8,20.0,19.8,20.4,20.2,20.0,20.3],
  [18.0,19.2,21.4,19.8,20.8,20.0,19.4,19.0,20.4,20.2,18.6,18.8,18.4,18.6,18.4,18.2,18.0,18.4,18.2,17.8,18.0,18.2,18.6,18.4,18.2,18.4,18.0,18.2,18.0,17.8,17.6,17.8,17.6,18.0,17.8,17.4,17.8,17.6,17.2,17.4,17.0],
  [34.8,35.2,35.2,35.8,34.0,35.0,35.2,34.8,34.4,33.8,33.2,33.6,32.6,33.4,32.6,33.6,32.8,33.2,32.6,31.6,31.8,32.2,32.8,33.0,32.4,32.2,31.8,32.4,33.6,32.6,31.8,31.6,31.0,31.4,31.2,31.6,31.0,30.8,31.2,31.0,30.5],
  [17.3,17.6,17.8,17.0,17.6,17.4,18.0,18.2,18.6,18.4,18.0,17.8,17.6,17.4,17.6,17.4,17.2,17.6,17.4,17.2,17.4,17.2,17.4,17.6,17.2,17.0,17.4,17.2,17.0,17.2,16.6,16.8,17.0,16.6,16.8,16.6,16.4,16.8,16.6,16.8,16.2]
];
var layer14 = [
  [22.0,25.6,24.8,25.0,23.2,23.4,22.6,23.0,23.0,22.6,23.4,23.2,23.6,22.8,23.2,22.4,22.8,22.2,21.8,22.4,21.8,22.2,23.0,21.8,22.2,22.4,22.0,22.6,22.2,21.8,21.4,21.8,20.4,21.0,20.8,21.2,20.8,21.4,20.6,21.4,21.0],
  [24.5,27.6,26.2,27.0,25.2,24.2,24.8,23.8,25.2,23.6,23.4,22.8,24.2,23.0,22.6,23.2,24.0,22.8,22.6,22.4,22.0,23.0,23.6,22.4,22.6,22.8,23.0,23.6,22.8,22.4,21.8,21.6,20.8,21.2,21.0,21.6,21.0,20.4,21.2,20.8,20.5],
  [20.8,20.2,20.4,21.4,20.2,20.8,21.2,20.4,21.2,21.8,21.6,21.4,21.8,21.6,20.8,21.2,21.6,21.8,21.6,21.4,21.0,20.8,21.2,21.4,21.6,21.2,21.4,21.8,21.4,21.2,21.0,21.4,20.8,21.0,21.2,21.6,21.4,21.6,21.0,21.4,21.0],
  [21.3,21.4,22.2,22.6,21.6,22.2,22.0,22.8,23.2,22.6,22.8,22.2,23.0,22.6,23.0,22.4,22.8,23.4,23.8,22.4,22.0,21.6,22.4,22.8,22.6,23.2,23.0,22.6,23.2,22.8,22.0,21.8,22.6,23.8,22.4,22.8,22.6,24.0,23.4,22.8,23.7],
  [27.0,30.4,30.6,29.2,27.0,26.8,27.0,27.8,26.4,25.6,23.4,25.8,26.4,24.2,26.2,24.0,25.4,24.2,23.4,22.8,22.6,24.6,26.2,24.6,25.0,22.8,22.8,24.6,25.0,24.8,22.8,22.6,21.2,22.0,22.6,21.6,22.2,21.8,21.4,20.6,22.3],
  [17.8,19.0,19.4,18.4,18.8,19.2,18.6,18.8,18.6,19.4,18.8,18.6,19.0,18.6,19.6,19.2,18.8,19.0,18.4,18.8,18.2,18.0,18.8,19.0,18.6,18.4,18.8,18.6,19.0,18.4,18.2,18.6,18.2,18.8,18.4,18.2,18.6,18.8,18.4,18.8,17.5],
  [17.7,18.4,18.6,17.6,17.8,18.0,17.6,17.8,18.0,17.6,17.8,17.6,18.0,17.8,18.0,18.2,18.4,18.2,18.0,17.8,18.0,18.4,18.2,17.8,18.0,17.8,18.0,18.2,17.8,17.6,17.8,18.0,17.6,17.4,17.6,17.8,17.6,17.2,17.6,17.4,17.5],
  [21.5,21.8,22.4,21.6,23.0,22.2,22.6,22.4,23.0,22.4,22.6,22.8,22.4,22.6,22.2,22.4,22.0,22.4,22.6,22.2,21.8,21.6,22.4,22.2,22.0,21.8,22.2,22.4,22.0,21.6,21.8,21.2,20.6,21.0,21.2,20.8,21.0,20.6,21.2,20.6,20.0]
];
var layer15 = [
  [24.8,26.8,27.6,25.2,26.0,25.6,24.4,24.8,24.4,25.0,24.8,26.2,25.0,25.6,24.2,24.6,25.2,24.4,25.0,24.6,24.2,24.8,25.4,24.6,24.4,24.8,25.2,25.6,24.2,24.8,23.2,24.4,23.4,23.6,23.0,23.4,24.6,23.0,23.6,22.8,23.3],
  [23.2,25.6,26.6,23.0,24.4,24.2,23.8,23.6,24.4,23.4,23.8,24.6,23.6,24.0,23.8,23.4,23.6,23.8,23.4,23.6,23.0,23.6,24.0,23.4,23.2,23.6,24.2,24.4,23.0,23.4,22.4,23.0,22.6,22.8,22.4,22.6,23.6,22.4,22.8,22.0,21.8],
  [22.0,25.4,26.2,24.6,24.6,24.0,23.8,23.4,24.0,23.6,23.4,24.6,23.2,24.0,23.6,23.2,23.8,23.4,23.6,23.2,23.4,24.0,23.8,23.4,23.2,23.6,24.4,24.2,23.0,23.2,22.6,23.0,22.6,23.2,22.4,22.8,24.0,22.6,22.8,22.6,22.7],
  [28.5,27.8,27.6,28.0,26.6,27.6,26.2,27.6,27.2,27.6,27.4,27.8,27.6,27.8,27.4,27.8,27.0,27.6,27.2,27.8,27.4,27.6,28.2,26.8,27.2,27.6,27.0,27.8,28.0,27.4,28.2,27.6,27.2,27.4,27.6,28.0,28.2,27.8,27.6,27.4,27.2],
  [21.8,24.4,25.2,23.2,23.4,23.0,23.2,22.6,23.0,22.4,22.8,23.6,22.6,23.2,22.8,22.4,23.0,22.6,23.0,22.4,22.6,23.2,23.0,22.6,23.0,22.8,23.4,23.6,22.4,22.8,22.0,22.4,21.8,22.4,21.8,22.2,23.2,22.0,22.2,21.8,21.8],
  [21.0,24.0,25.0,22.4,22.8,23.2,22.6,22.4,22.2,21.6,22.6,23.0,22.4,22.8,22.2,22.4,21.8,22.6,22.4,22.8,22.2,22.6,22.8,22.4,22.2,22.6,23.0,23.2,22.0,22.4,21.8,21.6,21.8,22.2,21.6,22.0,22.8,21.8,22.0,21.4,21.6],
  [21.4,23.6,24.8,21.8,22.6,22.8,22.4,22.2,21.6,22.4,22.2,22.8,22.2,22.6,22.0,22.4,22.2,22.4,22.0,22.2,21.8,22.4,22.6,22.0,22.2,22.4,22.8,23.0,21.8,22.0,21.6,21.8,21.4,21.8,21.2,21.6,22.6,21.6,21.8,21.2,21.4],
  [25.2,25.6,28.0,25.4,26.4,27.0,26.2,26.6,26.8,26.4,27.0,27.6,27.4,27.0,27.2,26.8,27.2,26.8,27.6,27.2,26.8,27.4,26.6,27.6,27.2,27.0,26.6,27.4,28.0,27.4,27.0,27.2,26.8,27.0,26.4,27.4,27.6,27.2,27.4,26.8,25.6]
];
var layer16 = [
  [27.5,31.8,31.2,33.0,30.4,31.2,30.6,30.8,29.8,28.6,28.4,29.6,27.8,28.4,27.6,27.8,27.2,27.6,27.0,27.4,26.8,27.6,27.2,27.0,27.4,26.8,27.6,27.2,26.8,27.0,26.6,26.4,26.2,26.8,26.4,26.2,26.0,26.8,26.4,25.6,27.0],
  [20.3,22.8,21.6,23.2,21.4,21.0,20.6,20.4,20.6,20.8,20.6,21.0,20.8,20.2,20.4,20.0,20.2,20.2,19.8,19.6,19.4,19.8,20.0,19.6,19.8,19.6,20.0,20.2,19.8,19.4,19.6,19.4,19.8,19.2,19.4,19.0,19.2,19.4,19.0,18.8,18.8],
  [23.5,24.4,25.2,24.6,25.0,25.2,24.6,24.8,24.2,23.8,24.6,24.8,25.0,24.2,24.6,24.8,24.4,24.6,24.2,24.4,23.8,24.4,24.8,24.2,24.6,24.8,24.4,25.0,24.6,24.0,24.4,24.2,24.6,24.4,24.0,24.2,23.8,24.4,24.8,23.8,23.1],
  [17.2,19.4,18.8,20.0,18.2,18.6,18.4,18.6,18.8,18.4,18.8,18.6,18.4,18.8,18.2,18.6,18.4,18.8,18.2,18.4,18.0,18.2,18.4,18.0,18.4,18.2,18.6,18.8,18.6,18.0,18.2,17.8,18.4,17.8,18.0,17.6,18.2,18.0,17.8,17.6,18.0],
  [28.5,30.4,28.6,29.8,28.0,27.2,26.8,27.2,26.6,27.4,27.0,27.4,26.8,27.6,27.0,27.8,27.2,26.8,27.4,27.0,26.4,26.8,27.2,26.8,27.4,27.2,27.6,27.8,27.4,26.8,26.4,27.0,26.8,27.2,26.0,25.8,26.4,25.6,26.2,25.8,25.0],
  [18.5,20.8,21.2,22.2,21.0,20.8,20.2,20.0,20.2,20.6,20.4,20.8,20.2,20.6,20.0,20.2,20.0,20.2,19.6,19.8,19.4,19.6,19.8,20.0,19.8,19.6,20.0,20.4,19.8,19.4,19.6,20.0,20.2,19.6,19.2,19.0,19.4,19.6,19.4,18.8,18.9],
  [29.0,28.2,28.6,29.8,29.2,28.6,29.4,28.6,29.2,28.4,28.8,28.6,28.8,29.0,28.8,29.2,29.0,29.4,29.0,29.2,28.0,28.6,28.2,28.6,29.4,28.8,29.6,28.4,29.2,29.6,28.8,29.4,28.8,29.8,28.8,28.2,28.0,28.4,28.6,28.2,27.5],
  [26.5,28.0,26.6,27.4,25.6,25.0,25.4,26.6,24.6,24.2,25.0,24.4,25.6,24.6,24.2,24.8,24.6,24.2,24.6,24.4,24.0,24.6,24.2,24.6,24.2,24.6,24.4,24.0,24.2,24.6,24.0,24.4,23.8,23.4,23.8,23.2,23.6,23.4,23.8,23.0,23.0]
];
var layer17 = [
  [23.5,24.8,24.2,24.0,25.2,24.0,24.2,22.0,22.6,22.8,23.8,23.6,23.8,23.6,23.4,23.0,23.2,22.6,23.6,23.4,22.6,22.6,22.8,23.2,22.6,23.4,22.6,22.4,23.4,22.6,23.6,22.6,22.8,23.0,22.6,22.8,21.8,22.6,22.8,23.2,23.3],
  [19.5,20.0,19.2,19.6,18.6,18.4,18.8,17.6,18.2,18.4,19.6,19.0,18.6,18.4,18.2,18.0,18.4,18.6,19.4,18.8,18.4,18.2,18.6,18.8,18.4,18.2,18.6,18.4,18.8,18.6,18.4,18.2,18.0,18.2,18.0,17.8,18.0,17.8,18.2,17.6,17.5],
  [16.2,17.4,17.0,17.4,16.6,16.6,15.8,15.4,16.0,16.4,16.8,16.6,16.8,16.4,16.6,16.2,16.4,16.6,16.8,16.4,16.2,16.0,16.2,16.4,16.2,16.4,16.6,16.4,16.2,16.4,16.0,16.2,15.8,16.0,16.2,16.0,15.8,15.6,15.8,15.6,15.5],
  [17.0,19.0,18.2,19.2,18.4,18.2,17.6,16.6,17.4,17.6,17.4,17.6,17.8,17.4,17.2,17.6,17.8,17.2,17.4,17.0,17.2,16.8,17.0,17.2,17.0,17.2,16.8,17.0,17.2,16.8,17.0,16.6,16.8,16.6,16.8,16.4,16.6,16.8,16.4,16.6,16.3],
  [21.7,23.4,22.4,22.8,21.4,21.2,20.6,20.0,19.8,21.2,21.8,22.4,21.0,20.6,21.0,20.6,20.8,20.6,21.6,20.2,20.0,20.4,20.6,20.8,20.4,20.6,20.8,20.2,20.6,20.2,20.6,20.4,20.6,20.2,20.4,20.2,20.6,20.2,20.4,20.6,20.0],
  [19.8,20.6,19.6,19.8,20.6,19.0,19.4,18.2,18.6,18.4,18.8,18.6,18.4,18.2,18.0,18.2,18.0,17.8,18.0,17.8,17.6,17.2,17.6,17.8,17.6,17.8,17.4,17.8,17.6,17.6,17.4,17.6,17.4,17.2,17.6,17.4,17.2,17.4,17.0,17.2,17.0],
  [21.2,22.4,21.2,22.0,22.0,20.6,20.4,19.6,20.8,20.4,20.8,21.2,20.2,19.8,20.2,20.4,20.6,20.2,20.8,20.0,19.6,19.8,20.2,20.6,20.4,20.2,20.4,20.0,20.2,19.8,20.0,19.8,20.2,19.8,20.2,20.0,19.6,20.0,19.8,19.4,20.0],
  [16.0,17.6,19.6,17.4,18.6,18.0,17.6,16.4,17.2,18.0,17.8,18.6,18.2,18.6,18.0,18.4,18.2,18.8,19.0,18.6,18.2,17.4,18.4,18.8,18.6,18.8,18.4,18.6,18.4,18.8,18.4,18.6,18.2,18.4,18.6,18.2,18.4,19.4,18.6,18.8,18.7]
];
var layers = [layer0,layer1,layer2,layer3,layer4,layer5,layer6,layer7,layer8,layer9,layer10,layer11,layer12,layer13,layer14,layer15,layer16,layer17];

// y tick values per layer
var yTicks = [
  [30,40],[20,25,30,35],[15,20,25,30],[15,20,25,30],[15,20,25,30],[20,30],
  [15,20,25],[15,20],[15,20,25],[15,20],[20,30],[20,30,40],
  [15,20,25],[20,30],[20,25,30],[22.5,25,27.5],[20,25,30],[15,20,25]
];
// y axis extent per layer [min, max]
var yRanges = [
  [20.4,47.1],[17.4,36.05],[13.8,31.75],[13.43,31.36],[11.47,30.37],[14.25,37.5],
  [13.5,25.43],[11.96,22.07],[11.38,27.84],[12.67,24.53],[12.2,34.84],[14.0,42.0],
  [12.27,28.94],[15.42,38.06],[16.02,32.69],[20.55,29.1],[16.45,34.19],[14.54,26.27]
];

(function() {
    var myChart = echarts.init(document.getElementById('chart'));
    var font = 'DejaVu Sans';
    var gridTop = 99, gridStep = 187.6, gridH = 120, gridLeft = 70, gridRight = 4;
    var last = layers.length - 1;

    var grids = [], xAxes = [], yAxes = [], series = [];
    var graphics = [{
        type: 'text', x: 546, y: 18,
        style: { text: 'Norm of projected_Q Over Time (Smoothed with Window Size 10)', font: '20px "' + font + '"', fill: '#000', align: 'center', verticalAlign: 'middle' }
    }];

    layers.forEach(function(layer, i) {
        var top = gridTop + gridStep * i;
        grids.push({ left: gridLeft, right: gridRight, top: top, height: gridH, show: true, borderColor: '#000', borderWidth: 1 });
        graphics.push({
            type: 'text', x: (gridLeft + 1089 - gridRight) / 2, y: top - 18,
            style: { text: 'Layer ' + i, font: '16.7px "' + font + '"', fill: '#000', align: 'center', verticalAlign: 'middle' }
        });
        xAxes.push({
            gridIndex: i, type: 'value', min: -50, max: 1050,
            axisLine: { show: false, onZero: false },
            axisTick: { show: true, length: 5, lineStyle: { color: '#000' }, customValues: xTicks },
            axisLabel: {
                show: i === last, customValues: xTicks, color: '#000', fontSize: 13.9, fontFamily: font, margin: 7,
                formatter: function(v) { return String(v); }
            },
            splitLine: { show: false },
            name: 'Timestep', nameLocation: 'middle', nameGap: i === last ? 29 : 10,
            nameTextStyle: { color: '#000', fontSize: 13.9, fontFamily: font, verticalAlign: 'top' }
        });
        var ticks = yTicks[i];
        yAxes.push({
            gridIndex: i, type: 'value', min: yRanges[i][0], max: yRanges[i][1],
            axisLine: { show: false, onZero: false },
            axisTick: { show: true, length: 5, lineStyle: { color: '#000' }, customValues: ticks },
            axisLabel: {
                customValues: ticks, color: '#000', fontSize: 13.9, fontFamily: font, margin: 11,
                formatter: function(v) { return i === 15 ? v.toFixed(1) : String(v); }
            },
            splitLine: { show: false },
            name: 'Norm', nameLocation: 'middle', nameGap: i === 15 ? 44 : 31, nameRotate: 90,
            nameTextStyle: { color: '#000', fontSize: 13.9, fontFamily: font }
        });
        layer.forEach(function(vals, h) {
            series.push({
                name: headNames[h], type: 'line', xAxisIndex: i, yAxisIndex: i,
                data: timesteps.map(function(t, k) { return [t, vals[k]]; }),
                symbol: 'none', showSymbol: false, silent: true,
                lineStyle: { width: 1.5, color: headColors[h] },
                itemStyle: { color: headColors[h] }
            });
        });
    });

    var option = {
        backgroundColor: '#fff',
        animation: false,
        color: headColors,
        legend: {
            data: headNames, top: 49, left: 93,
            icon: 'rect', itemWidth: 30, itemHeight: 2, itemGap: 26,
            textStyle: { color: '#000', fontSize: 13.9, fontFamily: font, padding: [0, 0, 0, 5] }
        },
        grid: grids,
        xAxis: xAxes,
        yAxis: yAxes,
        series: series,
        graphic: graphics
    };
    myChart.setOption(option);
    window.addEventListener('resize', function() {
        myChart.resize();
    });
})();
</script>
</body>
</html>
